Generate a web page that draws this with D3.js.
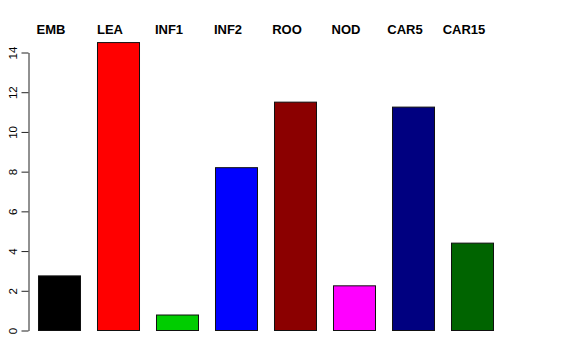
<!DOCTYPE html>
<html>
<head>
<meta charset="utf-8">
<script src="https://cdn.jsdelivr.net/npm/d3@7"></script>
<style>
  body { margin: 0; background: #fff; }
  svg { display: block; font-family: "Liberation Sans", Arial, Helvetica, sans-serif; }
</style>
</head>
<body>
<svg></svg>
<script>
let width = 576;
let height = 360;

let categories = ['EMB', 'LEA', 'INF1', 'INF2', 'ROO', 'NOD', 'CAR5', 'CAR15'];
let values = [2.75, 14.5, 0.78, 8.2, 11.5, 2.25, 11.25, 4.4];
let colors = ['#000000', '#ff0000', '#00cd00', '#0000ff', '#8b0000', '#ff00ff', '#000080', '#006400'];
let yTicks = [0, 2, 4, 6, 8, 10, 12, 14];

let svg = d3.select('svg')
        .attr('width', width)
        .attr('height', height)

let xScale = d3.scaleBand()
        .domain(categories)
        .range([30, 502])
        .paddingInner(0.288)
        .paddingOuter(0.144)

let yScale = d3.scaleLinear()
        .domain([0, 14])
        .range([330.5, 52.5])

// y axis, R style with rotated labels
let yAxis = d3.axisLeft(yScale)
        .tickValues(yTicks)
        .tickSize(7)
        .tickSizeOuter(0)

let axisG = svg.append('g')
        .attr('transform', 'translate(28.5,0)')
        .call(yAxis)

axisG.selectAll('path, line').attr('stroke', '#222')
axisG.selectAll('text')
        .attr('x', null)
        .attr('dy', null)
        .attr('transform', 'translate(-11.5,0) rotate(-90)')
        .style('text-anchor', 'middle')
        .style('font-size', '11.5px')
        .style('font-family', '"Liberation Sans", Arial, sans-serif')
        .attr('fill', '#000')

svg.selectAll('rect.bar')
        .data(values)
        .enter()
        .append('rect')
        .attr('class', 'bar')
        .attr('x', (d, i) => xScale(categories[i]))
        .attr('y', d => yScale(d))
        .attr('width', xScale.bandwidth())
        .attr('height', d => yScale(0) - yScale(d))
        .attr('fill', (d, i) => colors[i])
        .attr('stroke', '#111')
        .attr('stroke-width', 1)

svg.selectAll('text.lab')
        .data(categories)
        .enter()
        .append('text')
        .attr('class', 'lab')
        .attr('x', d => xScale(d) + xScale.bandwidth() / 2 - 8.5)
        .attr('y', 34)
        .style('text-anchor', 'middle')
        .style('font-weight', 'bold')
        .style('font-size', '13px')
        .text(d => d)
</script>
</body>
</html>
